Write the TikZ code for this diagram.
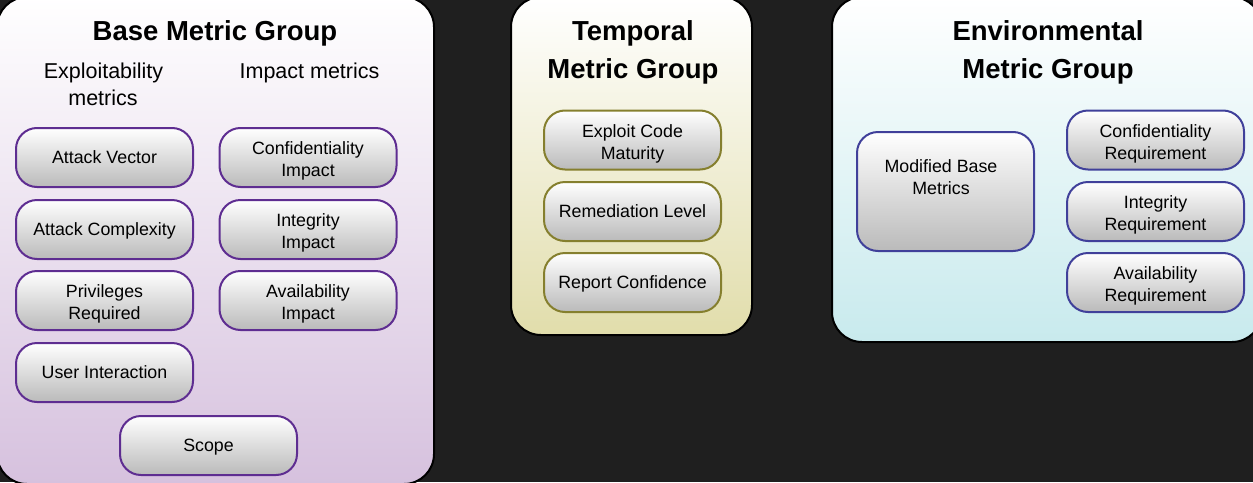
\documentclass[tikz,border=0pt]{standalone}
\usepackage{fontspec}
\setmainfont{Liberation Sans}
\definecolor{bgdark}{HTML}{1F1F1F}
\definecolor{basebot}{HTML}{D6C1DE}
\definecolor{tempbot}{HTML}{E1DDAB}
\definecolor{envbot}{HTML}{C8EAED}
\definecolor{purpleb}{HTML}{5E2D91}
\definecolor{oliveb}{HTML}{857F2E}
\definecolor{blueb}{HTML}{40409A}
\begin{document}
\begin{tikzpicture}[x=1pt,y=-1pt,
  panel/.style={draw=black, line width=2pt, rounded corners=30pt, top color=white, inner sep=0pt},
  mbox/.style={draw=#1, line width=2pt, rounded corners=21pt, top color=white, bottom color=black!27,
    minimum width=177pt, minimum height=59pt, align=center, inner sep=0pt, text depth=0pt,
    font=\fontsize{17.8}{22}\selectfont},
  two/.style={text height=38.7pt},
  ttl/.style={font=\fontsize{27.5}{38}\selectfont\bfseries, anchor=base},
  sub/.style={font=\fontsize{21.5}{26}\selectfont, anchor=base}]
\useasboundingbox (0,0) rectangle (1253,482);
\clip (0,0) rectangle (1253,482);
\fill[bgdark] (0,0) rectangle (1253,482);
% panels
\node[panel, bottom color=basebot, minimum width=437pt, minimum height=487pt] (base) at (215.5,240.5) {};
\node[panel, bottom color=tempbot, minimum width=241pt, minimum height=338pt] (temp) at (631.5,166) {};
\node[panel, bottom color=envbot, minimum width=430pt, minimum height=345pt] (env) at (1047,169.5) {};
% titles
\node[ttl] (tbase) at (215,40) {Base Metric Group};
\node[sub] (texp1) at (103.5,78) {Exploitability};
\node[sub] (texp2) at (103,105) {metrics};
\node[sub] (timp) at (309.5,78) {Impact metrics};
\node[ttl] (ttemp1) at (633,40) {Temporal};
\node[ttl] (ttemp2) at (633,78.5) {Metric Group};
\node[ttl] (tenv1) at (1048,40) {Environmental};
\node[ttl] (tenv2) at (1048,78.5) {Metric Group};
% base boxes
\node[mbox=purpleb] (av) at (104.5,157.5) {Attack Vector};
\node[mbox=purpleb] (ac) at (104.5,229.5) {Attack Complexity};
\node[mbox=purpleb, two] (pr) at (104.5,300.5) {Privileges\\Required};
\node[mbox=purpleb] (ui) at (104.5,372.5) {User Interaction};
\node[mbox=purpleb, two] (ci) at (308,157.5) {Confidentiality\\Impact};
\node[mbox=purpleb, two] (ii) at (308,229.5) {Integrity\\Impact};
\node[mbox=purpleb, two] (ai) at (308,300.5) {Availability\\Impact};
\node[mbox=purpleb] (sc) at (208.5,445.5) {Scope};
% temporal boxes
\node[mbox=oliveb, two] (ecm) at (632.5,140) {Exploit Code\\Maturity};
\node[mbox=oliveb] (rl) at (632.5,211.5) {Remediation Level};
\node[mbox=oliveb] (rc) at (632.5,282.5) {Report Confidence};
% environmental boxes
\node[mbox=blueb, minimum height=119pt] (mbm) at (945.5,191.5) {};
\node[align=center, inner sep=0pt, text depth=0pt, font=\fontsize{17.8}{22}\selectfont] (mbmt) at (941,177) {Modified Base\\Metrics};
\node[mbox=blueb, two] (cr) at (1155.5,140) {Confidentiality\\Requirement};
\node[mbox=blueb, two] (ir) at (1155.5,211.5) {Integrity\\Requirement};
\node[mbox=blueb, two] (ar) at (1155.5,282.5) {Availability\\Requirement};
\end{tikzpicture}
\end{document}
